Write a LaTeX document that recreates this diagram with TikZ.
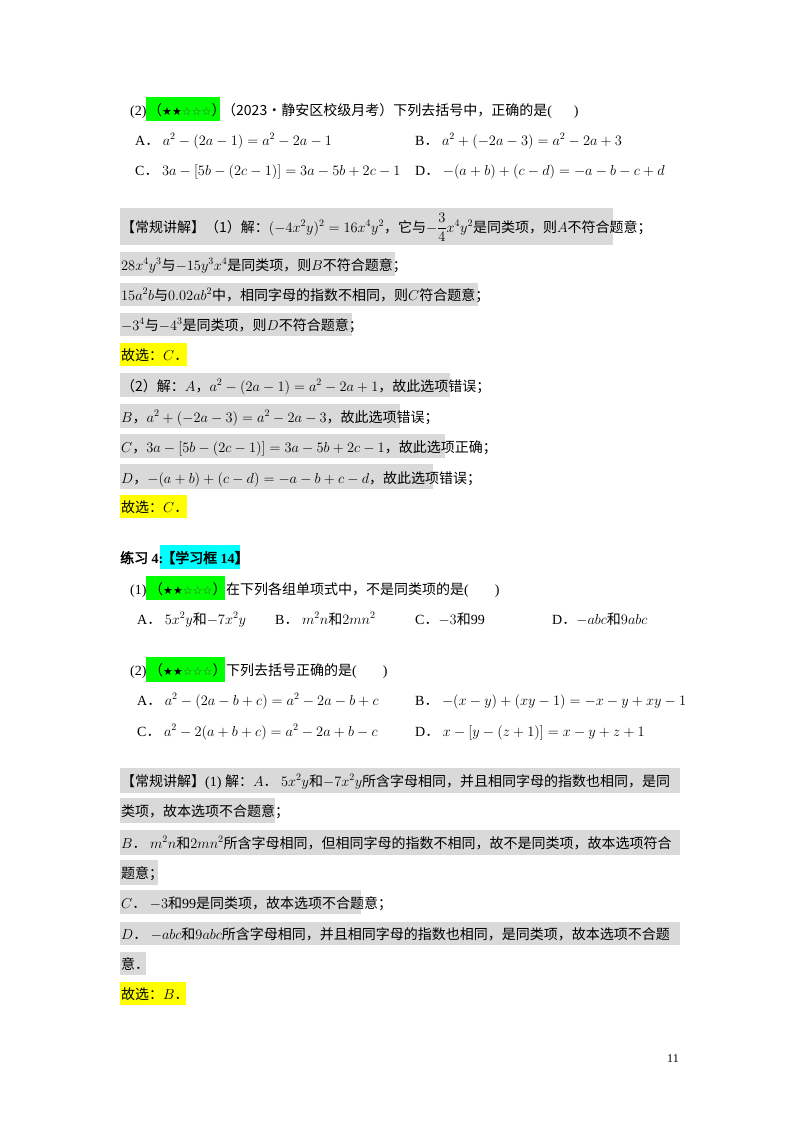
\documentclass[tikz,border=0pt]{standalone}
\usepackage{amsmath}
\usepackage{fontspec}
\setmainfont{Liberation Serif}
\newfontfamily\cjkf[AutoFakeBold=2.5]{Noto Sans CJK SC}
\newfontfamily\symf{DejaVu Sans}
\newcommand\zh[1]{{\cjkf #1}}
\newcommand\stars{{\cjkf （}{\symf\fontsize{11}{12}\selectfont ★★{\color{black!70}☆☆☆}}{\cjkf ）}}
\definecolor{gbox}{RGB}{217,217,217}
\definecolor{grn}{RGB}{0,255,0}
\definecolor{cyn}{RGB}{0,255,255}
\definecolor{yel}{RGB}{255,255,0}
\tikzset{t/.style={anchor=base west,inner sep=0pt,font=\fontsize{14}{16}\selectfont},
 bg/.style={fill=gbox,draw=none}}
\begin{document}
\begin{tikzpicture}[x=1pt,y=-1pt]
\useasboundingbox[fill=white] (0,0) rectangle (800,1132);
% top question
\fill[grn] (146,97) rectangle (220,121);
\node[t] (q2) at (130,115) {(2)};
\node[t] (q2s) at (148,115) {\stars};
\node[t] (q2t) at (222,115) {\zh{（2023•静安区校级月考）下列去括号中，正确的是}(\hspace{22pt})};
\node[t] (qa) at (135,145) {A\zh{．} $a^2-(2a-1)=a^2-2a-1$};
\node[t] (qb) at (415,145) {B\zh{．} $a^2+(-2a-3)=a^2-2a+3$};
\node[t] (qc) at (135,175) {C\zh{．} $3a-[5b-(2c-1)]=3a-5b+2c-1$};
\node[t] (qd) at (415,175) {D\zh{．} $-(a+b)+(c-d)=-a-b-c+d$};
% solution boxes
\fill[gbox] (120,208) rectangle (613,245);
\fill[gbox] (120,252) rectangle (395,276);
\fill[gbox] (120,283) rectangle (478,306);
\fill[gbox] (120,313) rectangle (352,336);
\fill[yel] (120,343) rectangle (187,366);
\fill[gbox] (120,373) rectangle (450,397);
\fill[gbox] (120,404) rectangle (400,428);
\fill[gbox] (120,434) rectangle (445,458);
\fill[gbox] (120,464) rectangle (433,489);
\fill[yel] (120,495) rectangle (187,518);
\node[t] (s1) at (121,232) {\zh{【常规讲解】（1）解：}$(-4x^2y)^2=16x^4y^2$\zh{，它与}$-\dfrac{3}{4}x^4y^2$\zh{是同类项，则}$A$\zh{不符合题意；}};
\node[t] (s2) at (121,270) {$28x^4y^3$\zh{与}$-15y^3x^4$\zh{是同类项，则}$B$\zh{不符合题意；}};
\node[t] (s3) at (121,300) {$15a^2b$\zh{与}$0.02ab^2$\zh{中，相同字母的指数不相同，则}$C$\zh{符合题意；}};
\node[t] (s4) at (121,330) {$-3^4$\zh{与}$-4^3$\zh{是同类项，则}$D$\zh{不符合题意；}};
\node[t] (s5) at (121,360) {\zh{故选：}$C$\zh{．}};
\node[t] (s6) at (121,391) {\zh{（2）解：}$A$\zh{，}$a^2-(2a-1)=a^2-2a+1$\zh{，故此选项错误；}};
\node[t] (s7) at (121,422) {$B$\zh{，}$a^2+(-2a-3)=a^2-2a-3$\zh{，故此选项错误；}};
\node[t] (s8) at (121,452) {$C$\zh{，}$3a-[5b-(2c-1)]=3a-5b+2c-1$\zh{，故此选项正确；}};
\node[t] (s9) at (121,483) {$D$\zh{，}$-(a+b)+(c-d)=-a-b+c-d$\zh{，故此选项错误；}};
\node[t] (s10) at (121,512) {\zh{故选：}$C$\zh{．}};
% exercise 4
\fill[cyn] (160,545) rectangle (240,569);
\node[t] (e4) at (120,563) {\zh{\textbf{练习}} \textbf{4:}};
\node[t] (e4b) at (161,563) {\zh{\textbf{【学习框}} \textbf{14}\zh{\textbf{】}}};
\fill[grn] (146,576) rectangle (225,600);
\node[t] (p1) at (130,594) {(1)};
\node[t] (p1s) at (149,594) {\stars};
\node[t] (p1t) at (226,594) {\zh{在下列各组单项式中，不是同类项的是}(\hspace{26pt})};
\node[t] (pa) at (137,624) {A\zh{．} $5x^2y$\zh{和}$-7x^2y$};
\node[t] (pb) at (275,624) {B\zh{．} $m^2n$\zh{和}$2mn^2$};
\node[t] (pc) at (415,624) {C\zh{．}$-3$\zh{和}99};
\node[t] (pd) at (552,624) {D\zh{．}$-abc$\zh{和}$9abc$};
\fill[grn] (146,657) rectangle (225,682);
\node[t] (p2) at (130,675) {(2)};
\node[t] (p2s) at (149,675) {\stars};
\node[t] (p2t) at (226,675) {\zh{下列去括号正确的是}(\hspace{26pt})};
\node[t] (ra) at (137,705) {A\zh{．} $a^2-(2a-b+c)=a^2-2a-b+c$};
\node[t] (rb) at (415,705) {B\zh{．} $-(x-y)+(xy-1)=-x-y+xy-1$};
\node[t] (rc) at (137,736) {C\zh{．} $a^2-2(a+b+c)=a^2-2a+b-c$};
\node[t] (rd) at (415,736) {D\zh{．} $x-[y-(z+1)]=x-y+z+1$};
% solution 2
\fill[gbox] (120,768) rectangle (680,793);
\fill[gbox] (120,798) rectangle (275,823);
\fill[gbox] (120,830) rectangle (680,855);
\fill[gbox] (120,860) rectangle (158,885);
\fill[gbox] (120,890) rectangle (361,914);
\fill[gbox] (120,922) rectangle (680,945);
\fill[gbox] (120,952) rectangle (146,975);
\fill[yel] (120,982) rectangle (186,1005);
\node[t] (u1) at (121,786) {\zh{【常规讲解】}(1) \zh{解：}$A$\zh{．} $5x^2y$\zh{和}$-7x^2y$\zh{所含字母相同，并且相同字母的指数也相同，是同}};
\node[t] (u2) at (121,816) {\zh{类项，故本选项不合题意；}};
\node[t] (u3) at (121,848) {$B$\zh{．} $m^2n$\zh{和}$2mn^2$\zh{所含字母相同，但相同字母的指数不相同，故不是同类项，故本选项符合}};
\node[t] (u4) at (121,878) {\zh{题意；}};
\node[t] (u5) at (121,908) {$C$\zh{．} $-3$\zh{和}99\zh{是同类项，故本选项不合题意；}};
\node[t] (u6) at (121,939) {$D$\zh{．} $-abc$\zh{和}$9abc$\zh{所含字母相同，并且相同字母的指数也相同，是同类项，故本选项不合题}};
\node[t] (u7) at (121,969) {\zh{意．}};
\node[t] (u8) at (121,999) {\zh{故选：}$B$\zh{．}};
\node[t,font=\fontsize{12}{14}\selectfont] (pg) at (667,1062) {11};
\end{tikzpicture}
\end{document}
